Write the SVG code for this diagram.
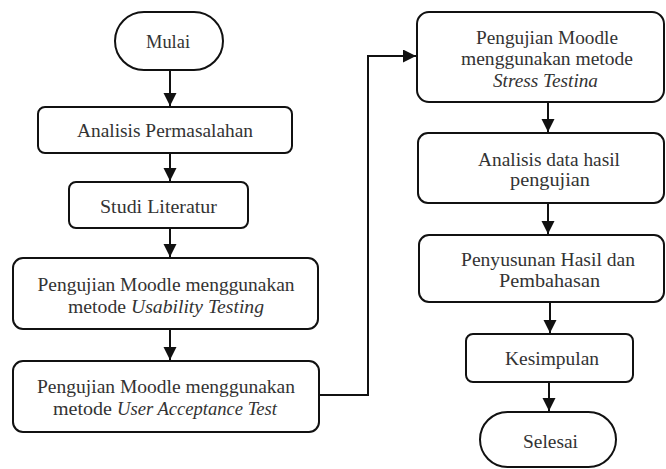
<svg xmlns="http://www.w3.org/2000/svg" width="666" height="469" viewBox="0 0 666 469">
<style>
.box{fill:#fff;stroke:#111;stroke-width:2}
.t{font-family:"Liberation Serif","DejaVu Serif",serif;font-size:19px;fill:#333;text-anchor:middle}
.s{text-anchor:start}
.i{font-style:italic}
.c{fill:none;stroke:#111;stroke-width:2}
</style>
<defs>
<marker id="ah" markerUnits="userSpaceOnUse" markerWidth="14" markerHeight="14" refX="13" refY="6.5" orient="auto">
<path d="M0,0 L13,6.5 L0,13 z" fill="#111"/>
</marker>
</defs>
<rect width="666" height="469" fill="#fff"/>
<g id="connectors">
<path class="c" d="M170,70 V106" marker-end="url(#ah)"/>
<path class="c" d="M170,153 V181" marker-end="url(#ah)"/>
<path class="c" d="M170,228 V257" marker-end="url(#ah)"/>
<path class="c" d="M170,329 V360" marker-end="url(#ah)"/>
<path class="c" d="M319,395 H368 V56 H416" marker-end="url(#ah)"/>
<path class="c" d="M548,102 V132" marker-end="url(#ah)"/>
<path class="c" d="M548,203 V234" marker-end="url(#ah)"/>
<path class="c" d="M550,302 V333" marker-end="url(#ah)"/>
<path class="c" d="M549,382 V411" marker-end="url(#ah)"/>
</g>
<g id="mulai">
<rect class="box" x="115" y="12" width="108" height="58" rx="29"/>
<text class="t" x="168" y="48" textLength="44" lengthAdjust="spacingAndGlyphs">Mulai</text>
</g>
<g id="analisis">
<rect class="box" x="38" y="107" width="254" height="46" rx="7"/>
<text class="t" x="165" y="137" textLength="176" lengthAdjust="spacingAndGlyphs">Analisis Permasalahan</text>
</g>
<g id="studi">
<rect class="box" x="69" y="182" width="179" height="46" rx="7"/>
<text class="t" x="158.5" y="213" textLength="117" lengthAdjust="spacingAndGlyphs">Studi Literatur</text>
</g>
<g id="usability">
<rect class="box" x="13" y="258" width="305" height="71" rx="10"/>
<text class="t" x="166" y="291" textLength="257" lengthAdjust="spacingAndGlyphs">Pengujian Moodle menggunakan</text>
<text class="t s" x="68" y="313" textLength="58" lengthAdjust="spacingAndGlyphs">metode</text>
<text class="t s i" x="131" y="313" textLength="133" lengthAdjust="spacingAndGlyphs">Usability Testing</text>
</g>
<g id="uat">
<rect class="box" x="13" y="361" width="306" height="71" rx="10"/>
<text class="t" x="166" y="393" textLength="258" lengthAdjust="spacingAndGlyphs">Pengujian Moodle menggunakan</text>
<text class="t s" x="53" y="415" textLength="59" lengthAdjust="spacingAndGlyphs">metode</text>
<text class="t s i" x="117" y="415" textLength="160" lengthAdjust="spacingAndGlyphs">User Acceptance Test</text>
</g>
<g id="stress">
<rect class="box" x="417" y="12" width="247" height="90" rx="12"/>
<text class="t" x="547" y="44" textLength="142" lengthAdjust="spacingAndGlyphs">Pengujian Moodle</text>
<text class="t" x="547" y="65" textLength="172" lengthAdjust="spacingAndGlyphs">menggunakan metode</text>
<text class="t i" x="545.5" y="87" textLength="105" lengthAdjust="spacingAndGlyphs">Stress Testina</text>
</g>
<g id="analisis-data">
<rect class="box" x="418" y="133" width="246" height="70" rx="10"/>
<text class="t" x="549" y="166" textLength="142" lengthAdjust="spacingAndGlyphs">Analisis data hasil</text>
<text class="t" x="550" y="186" textLength="80" lengthAdjust="spacingAndGlyphs">pengujian</text>
</g>
<g id="penyusunan">
<rect class="box" x="419" y="235" width="245" height="67" rx="10"/>
<text class="t" x="548" y="266" textLength="174" lengthAdjust="spacingAndGlyphs">Penyusunan Hasil dan</text>
<text class="t" x="549.5" y="287" textLength="101" lengthAdjust="spacingAndGlyphs">Pembahasan</text>
</g>
<g id="kesimpulan">
<rect class="box" x="466" y="334" width="167" height="48" rx="7"/>
<text class="t" x="552" y="365" textLength="94" lengthAdjust="spacingAndGlyphs">Kesimpulan</text>
</g>
<g id="selesai">
<rect class="box" x="480" y="412" width="136" height="55" rx="27.5"/>
<text class="t" x="550.5" y="448" textLength="55" lengthAdjust="spacingAndGlyphs">Selesai</text>
</g>
</svg>
